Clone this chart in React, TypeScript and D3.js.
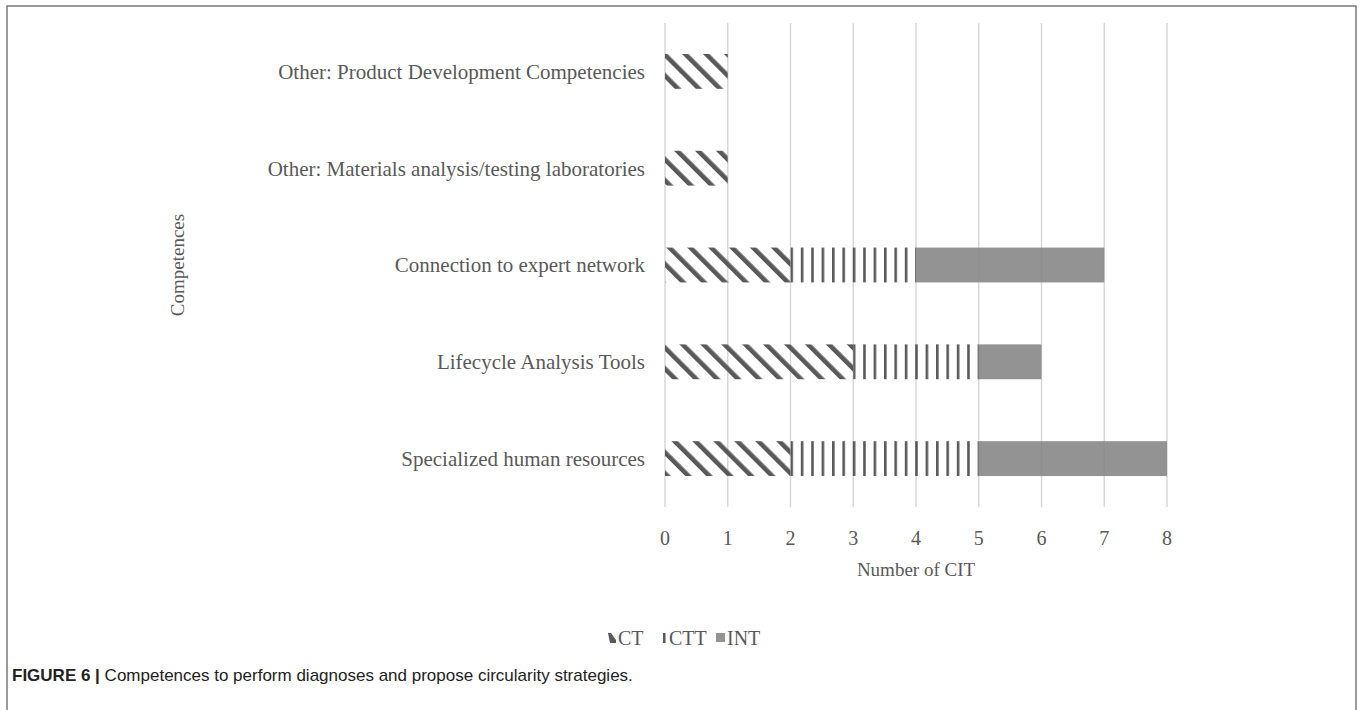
import React, { useEffect, useRef } from "react";
import * as d3 from "d3";

// data
const categories = [
  "Other: Product Development Competencies",
  "Other: Materials analysis/testing laboratories",
  "Connection to expert network",
  "Lifecycle Analysis Tools",
  "Specialized human resources",
];
const seriesNames = ["CT", "CTT", "INT"];
const ctValues = [1, 1, 2, 3, 2];
const cttValues = [0, 0, 2, 2, 3];
const intValues = [0, 0, 3, 1, 3];
const xTicks = [0, 1, 2, 3, 4, 5, 6, 7, 8];

const W = 1360;
const H = 710;
const textGray = "#595959";
const serif = "'Liberation Serif', 'Times New Roman', serif";

const App = () => {
  const ref = useRef<SVGSVGElement>(null);

  useEffect(() => {
    const svg = d3.select(ref.current);
    svg.selectAll("*").remove();

    // patterns
    const defs = svg.append("defs");
    defs.append("pattern")
      .attr("id", "pCT")
      .attr("patternUnits", "userSpaceOnUse")
      .attr("width", 14.8)
      .attr("height", 14.8)
      .attr("patternTransform", "rotate(-45)")
      .append("rect")
      .attr("x", 0).attr("y", 0)
      .attr("width", 4.6).attr("height", 14.8)
      .attr("fill", textGray);
    defs.append("pattern")
      .attr("id", "pCTT")
      .attr("patternUnits", "userSpaceOnUse")
      .attr("width", 10.4)
      .attr("height", 10)
      .append("rect")
      .attr("x", 0).attr("y", 0)
      .attr("width", 2.6).attr("height", 10)
      .attr("fill", textGray);

    // frame
    svg.append("path")
      .attr("d", `M7,${H} L7,6 L1356,6 L1356,${H}`)
      .attr("fill", "none")
      .attr("stroke", "#7a7a7a")
      .attr("stroke-width", 1.5);

    const x = d3.scaleLinear().domain([0, 8]).range([665, 1167]);
    const y = d3.scaleBand<string>()
      .domain(categories)
      .range([23, 507])
      .paddingInner(0.64)
      .paddingOuter(0.32);

    // gridlines
    svg.append("g")
      .selectAll("line")
      .data(xTicks)
      .join("line")
      .attr("x1", (d) => x(d)).attr("x2", (d) => x(d))
      .attr("y1", 23).attr("y2", 507)
      .attr("stroke", "#d9d9d9")
      .attr("stroke-width", 1.5);

    // stacked bars
    const rows = categories.map((c, i) => ({
      cat: c,
      CT: ctValues[i],
      CTT: cttValues[i],
      INT: intValues[i],
    }));
    const stack = d3.stack<any>().keys(seriesNames)(rows);
    const fills: Record<string, string> = {
      CT: "url(#pCT)",
      CTT: "url(#pCTT)",
      INT: "#808080",
    };

    stack.forEach((layer) => {
      svg.append("g")
        .selectAll("rect")
        .data(layer.filter((d) => d[1] > d[0]))
        .join("rect")
        .attr("x", (d) => x(d[0]))
        .attr("width", (d) => x(d[1]) - x(d[0]))
        .attr("y", (d) => y(d.data.cat)!)
        .attr("height", y.bandwidth())
        .attr("fill", fills[layer.key])
        .attr("fill-opacity", layer.key === "INT" ? 0.85 : 1);
    });

    // category labels
    svg.append("g")
      .selectAll("text")
      .data(categories)
      .join("text")
      .attr("x", 645)
      .attr("y", (d) => y(d)! + y.bandwidth() / 2)
      .attr("dy", "0.35em")
      .attr("text-anchor", "end")
      .attr("font-family", serif)
      .attr("font-size", 21)
      .attr("fill", textGray)
      .text((d) => d);

    // x tick labels
    svg.append("g")
      .selectAll("text")
      .data(xTicks)
      .join("text")
      .attr("x", (d) => x(d))
      .attr("y", 545)
      .attr("text-anchor", "middle")
      .attr("font-family", serif)
      .attr("font-size", 20)
      .attr("fill", textGray)
      .text((d) => d);

    svg.append("text")
      .attr("x", x(4))
      .attr("y", 576)
      .attr("text-anchor", "middle")
      .attr("font-family", serif)
      .attr("font-size", 19)
      .attr("fill", textGray)
      .text("Number of CIT");

    svg.append("text")
      .attr("transform", `translate(184,265) rotate(-90)`)
      .attr("text-anchor", "middle")
      .attr("font-family", serif)
      .attr("font-size", 19)
      .attr("fill", textGray)
      .text("Competences");

    // legend
    const lg = svg.append("g").attr("transform", "translate(608,638)");
    const legendItems = [
      { key: "CT", x: 0, tx: 10 },
      { key: "CTT", x: 55, tx: 61 },
      { key: "INT", x: 108, tx: 119 },
    ];
    legendItems.forEach((it) => {
      if (it.key === "CT") {
        lg.append("path")
          .attr("d", `M${it.x},-5 L${it.x + 3},-5 L${it.x + 8},2 L${it.x + 8},5 L${it.x + 2},5 Z`)
          .attr("fill", textGray);
      } else if (it.key === "CTT") {
        lg.append("rect")
          .attr("x", it.x).attr("y", -5)
          .attr("width", 2.5).attr("height", 10)
          .attr("fill", textGray);
      } else {
        lg.append("rect")
          .attr("x", it.x).attr("y", -5)
          .attr("width", 9).attr("height", 9)
          .attr("fill", "#808080")
          .attr("fill-opacity", 0.85);
      }
      lg.append("text")
        .attr("x", it.tx)
        .attr("y", 0)
        .attr("dy", "0.35em")
        .attr("font-family", serif)
        .attr("font-size", 20)
        .attr("fill", textGray)
        .text(it.key);
    });

    // caption
    const cap = svg.append("text")
      .attr("x", 12)
      .attr("y", 681)
      .attr("font-family", "'Liberation Sans', Arial, sans-serif")
      .attr("font-size", 17)
      .attr("fill", "#222");
    cap.append("tspan").attr("font-weight", "bold").text("FIGURE 6 | ");
    cap.append("tspan").text("Competences to perform diagnoses and propose circularity strategies.");
  }, []);

  return (
    <div style={{ position: "absolute", left: 0, top: 0 }}>
      <svg ref={ref} width={W} height={H} style={{ display: "block", background: "#fff" }} />
    </div>
  );
};

export default App;
